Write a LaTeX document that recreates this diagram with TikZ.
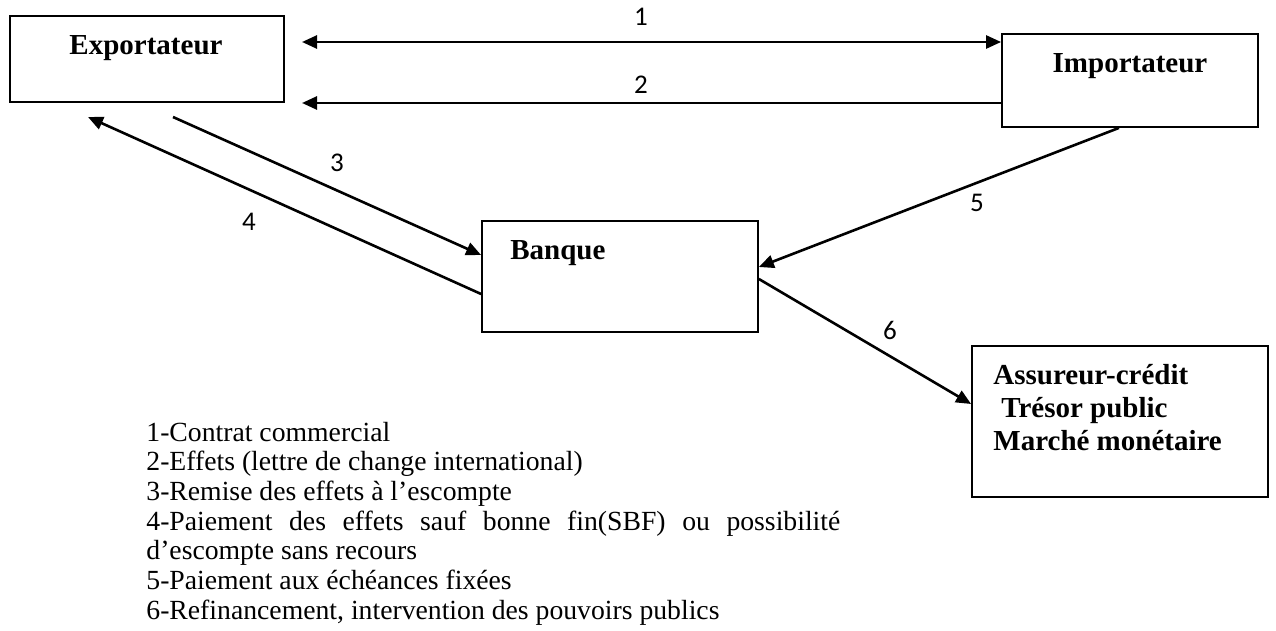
\documentclass[tikz,border=0pt]{standalone}
\usepackage{fontspec}
\setmainfont{Liberation Serif}
\newfontfamily\calibri{Carlito}
\usetikzlibrary{arrows.meta}
\begin{document}
\begin{tikzpicture}[x=0.5pt,y=-0.5pt,
  box/.style={draw,line width=0.9pt,rectangle,inner sep=0pt},
  title/.style={font=\fontsize{14.5}{16.6}\selectfont\bfseries,inner sep=0pt,anchor=base west},
  flow/.style={line width=1.3pt,-{Triangle[length=7.5pt,width=6.5pt]}},
  num/.style={font=\calibri\fontsize{13.5}{15}\selectfont,inner sep=0pt},
  item/.style={font=\fontsize{13.85}{15}\selectfont,inner sep=0pt,anchor=base west}]
\useasboundingbox (0,0) rectangle (1276,631);

% boxes
\node[box,minimum width=137pt,minimum height=43pt] (exp) at (147,59) {};
\node[box,minimum width=128pt,minimum height=46.5pt] (imp) at (1130,80.5) {};
\node[box,minimum width=138pt,minimum height=55.5pt] (bnk) at (620,276.5) {};
\node[box,minimum width=148pt,minimum height=75.5pt] (ass) at (1120,421.5) {};

% box titles
\node[title,anchor=base] (texp) at (146,55) {Exportateur};
\node[title,anchor=base] (timp) at (1130,73) {Importateur};
\node[title] (tbnk) at (510,259) {Banque};
\node[title] (tass1) at (993,384) {Assureur-crédit};
\node[title] (tass2) at (1001,417) {Trésor public};
\node[title] (tass3) at (993,450) {Marché monétaire};

% free ends of the connectors
\coordinate (c1) at (302,42);
\coordinate (c2) at (302,103);
\coordinate (c3) at (173,117);
\coordinate (c4) at (88,117);
\coordinate (b3) at (482,255);
\coordinate (b4) at (482,294);
\coordinate (b5) at (758,267);
\coordinate (b6) at (758,279);
\coordinate (i5) at (1119,127);
\coordinate (a6) at (972,404);

% connectors
\draw[flow,{Triangle[length=7.5pt,width=6.5pt]}-{Triangle[length=7.5pt,width=6.5pt]}] (c1) -- (c1 -| imp.west);
\draw[flow] (c2 -| imp.west) -- (c2);
\draw[flow] (c3) -- (b3 -| bnk.west);
\draw[flow] (b4 -| bnk.west) -- (c4);
\draw[flow] (i5 |- imp.south) -- (b5 -| bnk.east);
\draw[flow] (b6 -| bnk.east) -- (a6 -| ass.west);

% connector numbers
\node[num] (n1) at (641,17) {1};
\node[num] (n2) at (641,85) {2};
\node[num] (n3) at (337,163) {3};
\node[num] (n4) at (249,222) {4};
\node[num] (n5) at (977,203) {5};
\node[num] (n6) at (890,330) {6};

% legend
\node[item] (l1) at (146,441) {1-Contrat commercial};
\node[item] (l2) at (146,470.7) {2-Effets (lettre de change international)};
\node[item] (l3) at (146,500.4) {3-Remise des effets à l’escompte};
\node[item] (l4) at (146,530.1) {\makebox[347pt][s]{4-Paiement des effets sauf bonne fin(SBF) ou possibilité}};
\node[item] (l5) at (146,559.8) {d’escompte sans recours};
\node[item] (l6) at (146,589.5) {5-Paiement aux échéances fixées};
\node[item] (l7) at (146,619) {6-Refinancement, intervention des pouvoirs publics};
\end{tikzpicture}
\end{document}
